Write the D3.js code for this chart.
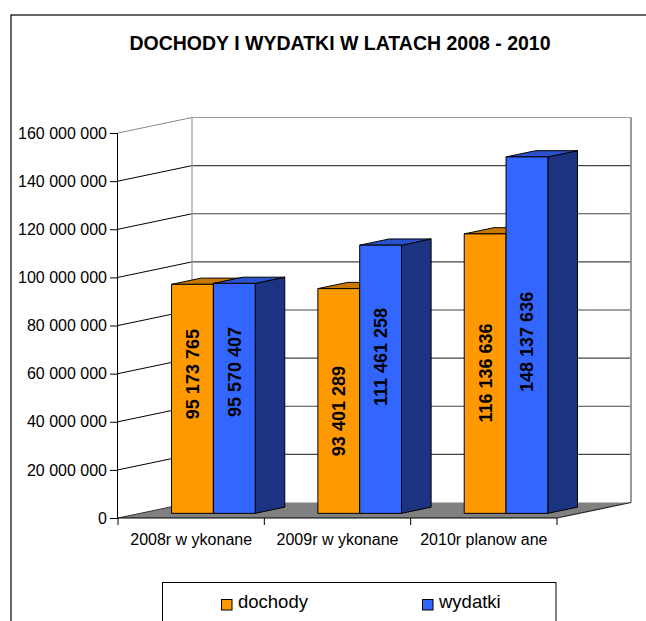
<!DOCTYPE html>
<html>
<head>
<meta charset="utf-8">
<script src="https://cdn.jsdelivr.net/npm/d3@7"></script>
<style>
  html, body { margin: 0; padding: 0; background: #fff; }
  svg { display: block; font-family: "Liberation Sans", Arial, sans-serif; }
</style>
</head>
<body>
<svg id="chart" width="646" height="621"></svg>
<script>
// ---- data ----
const title = "DOCHODY I WYDATKI W LATACH 2008 - 2010";
const categories = ["2008r w ykonane", "2009r w ykonane", "2010r planow ane"];
const seriesNames = ["dochody", "wydatki"];
const dochody = [95173765, 93401289, 116136636];
const wydatki = [95570407, 111461258, 148137636];
const yTicks = [0, 20000000, 40000000, 60000000, 80000000, 100000000, 120000000, 140000000, 160000000];
// label anchor as a fraction of each bar's height (labels are placed by hand in the original)
const labelFracDochody = [0.608, 0.455, 0.502];
const labelFracWydatki = [0.615, 0.583, 0.481];

// ---- layout ----
const svg = d3.select("#chart");
const X0 = 118, X1 = 557, Y0 = 518, Y1 = 133;
const DX = 74, DY = -15.5;       // depth offset of back wall
const F0 = 0.3, F1 = 0.7;        // bar depth range (fraction of depth)

const fmt = v => d3.format(",")(v).replace(/,/g, " ");

const y = d3.scaleLinear().domain([0, 160000000]).range([Y0, Y1]);
const x = d3.scaleBand().domain(categories).range([X0, X1]).paddingInner(0).paddingOuter(0);
const xs = d3.scaleBand().domain(seriesNames).range([0, x.bandwidth()]).paddingInner(0).paddingOuter(0.75);

const P = (px, py, f) => [px + f * DX, py + f * DY];
const pts = arr => arr.map(p => p.join(",")).join(" ");

// outer frame
svg.append("rect").attr("x", 11).attr("y", 15).attr("width", 700).attr("height", 700)
  .attr("fill", "#fff").attr("stroke", "#000").attr("stroke-width", 1.2);

// title
svg.append("text").attr("x", 340).attr("y", 50).attr("text-anchor", "middle")
  .attr("font-weight", "bold").attr("font-size", 19.5).attr("fill", "#000").text(title);

// walls
svg.append("polygon")
  .attr("points", pts([P(X0, Y1, 0), P(X0, Y1, 1), P(X0, Y0, 1), P(X0, Y0, 0)]))
  .attr("fill", "#fff");
svg.append("polygon")
  .attr("points", pts([P(X0, Y1, 1), P(X1, Y1, 1), P(X1, Y0, 1), P(X0, Y0, 1)]))
  .attr("fill", "#fff");

// floor
svg.append("polygon")
  .attr("points", pts([P(X0, Y0, 0), P(X1, Y0, 0), P(X1, Y0, 1), P(X0, Y0, 1)]))
  .attr("fill", "#808080");

// gridlines
const grid = svg.append("g");
yTicks.forEach(v => {
  if (v === 0) return;
  const top = v === 160000000;
  const a = P(X0, y(v), 0), b = P(X0, y(v), 1), c = P(X1, y(v), 1);
  grid.append("line").attr("x1", a[0]).attr("y1", a[1]).attr("x2", b[0]).attr("y2", b[1])
    .attr("stroke", top ? "#888" : "#000").attr("stroke-width", 1);
  grid.append("line").attr("x1", b[0]).attr("y1", b[1]).attr("x2", c[0]).attr("y2", c[1])
    .attr("stroke", top ? "#999" : "#444").attr("stroke-width", 1.2);
});
// back wall side edges
[[X0], [X1]].forEach(([px]) => {
  const a = P(px, Y1, 1), b = P(px, Y0, 1);
  grid.append("line").attr("x1", a[0]).attr("y1", a[1]).attr("x2", b[0]).attr("y2", b[1])
    .attr("stroke", "#999").attr("stroke-width", px === X1 ? 2 : 1.2);
});
// floor edges
{
  const a = P(X0, Y0, 0), b = P(X0, Y0, 1), c = P(X1, Y0, 0), d = P(X1, Y0, 1);
  grid.append("line").attr("x1", a[0]).attr("y1", a[1]).attr("x2", b[0]).attr("y2", b[1])
    .attr("stroke", "#333").attr("stroke-width", 1);
  grid.append("line").attr("x1", c[0]).attr("y1", c[1]).attr("x2", d[0]).attr("y2", d[1])
    .attr("stroke", "#222").attr("stroke-width", 1.2);
}

// axes
const yAxis = d3.axisLeft(y).tickValues(yTicks).tickSize(8).tickPadding(3).tickFormat(fmt);
const gy = svg.append("g").attr("transform", `translate(${X0},0)`).call(yAxis);
gy.select(".domain").attr("stroke", "#000").attr("d", `M-0.5,${Y1}V${Y0}`);
gy.selectAll(".tick line").attr("stroke", "#000");
gy.selectAll(".tick text").attr("font-size", 16).attr("fill", "#000")
  .attr("font-family", "Liberation Sans, Arial, sans-serif");

const xTickScale = d3.scalePoint().domain(d3.range(categories.length + 1)).range([X0, X1]);
const gx = svg.append("g").attr("transform", `translate(0,${Y0})`);
gx.append("line").attr("x1", X0).attr("x2", X1).attr("y1", 0).attr("y2", 0).attr("stroke", "#000").attr("stroke-width", 1.2);
d3.range(categories.length + 1).forEach(i => {
  gx.append("line").attr("x1", xTickScale(i)).attr("x2", xTickScale(i)).attr("y1", 0).attr("y2", 7)
    .attr("stroke", "#000");
});
categories.forEach(c => {
  gx.append("text").attr("x", x(c) + x.bandwidth() / 2).attr("y", 27)
    .attr("text-anchor", "middle").attr("font-size", 16).attr("fill", "#000").text(c);
});

// bars
const colors = {
  dochody: { front: "#FF9900", top: "#C97800", side: "#B36B00" },
  wydatki: { front: "#3366FF", top: "#2A52CC", side: "#1B3380" }
};
const seriesVals = { dochody: dochody, wydatki: wydatki };
const labelFrac = { dochody: labelFracDochody, wydatki: labelFracWydatki };

const bars = svg.append("g");
categories.forEach((c, i) => {
  seriesNames.forEach(s => {
    const v = seriesVals[s][i];
    const xl = x(c) + xs(s), xr = xl + xs.bandwidth();
    const yt = y(v), yb = y(0);
    const col = colors[s];
    // side
    bars.append("polygon")
      .attr("points", pts([P(xr, yt, F0), P(xr, yt, F1), P(xr, yb, F1), P(xr, yb, F0)]))
      .attr("fill", col.side).attr("stroke", "#000").attr("stroke-width", 1).attr("stroke-linejoin", "round");
    // top
    bars.append("polygon")
      .attr("points", pts([P(xl, yt, F0), P(xl, yt, F1), P(xr, yt, F1), P(xr, yt, F0)]))
      .attr("fill", col.top).attr("stroke", "#000").attr("stroke-width", 1).attr("stroke-linejoin", "round");
    // front
    bars.append("polygon")
      .attr("points", pts([P(xl, yt, F0), P(xr, yt, F0), P(xr, yb, F0), P(xl, yb, F0)]))
      .attr("fill", col.front).attr("stroke", "#000").attr("stroke-width", 1).attr("stroke-linejoin", "round");
  });
  // labels
  seriesNames.forEach(s => {
    const v = seriesVals[s][i];
    const xl = x(c) + xs(s), xr = xl + xs.bandwidth();
    const cpt = P((xl + xr) / 2, y(v * labelFrac[s][i]), F0);
    bars.append("text")
      .attr("transform", `translate(${cpt[0] + 6.5},${cpt[1]}) rotate(-90)`)
      .attr("text-anchor", "middle").attr("font-weight", "bold").attr("font-size", 18)
      .attr("fill", "#000").text(fmt(v));
  });
});

// legend
const lg = svg.append("g");
lg.append("rect").attr("x", 162.5).attr("y", 582.5).attr("width", 393.5).attr("height", 80)
  .attr("fill", "#fff").attr("stroke", "#000").attr("stroke-width", 1);
const legendX = [221, 422];
seriesNames.forEach((s, i) => {
  lg.append("rect").attr("x", legendX[i] + 0.5).attr("y", 599.5).attr("width", 10.5).attr("height", 10.5)
    .attr("fill", colors[s].front).attr("stroke", "#000").attr("stroke-width", 1);
  lg.append("text").attr("x", legendX[i] + 17).attr("y", 608).attr("font-size", 18.5)
    .attr("fill", "#000").text(s);
});
</script>
</body>
</html>
